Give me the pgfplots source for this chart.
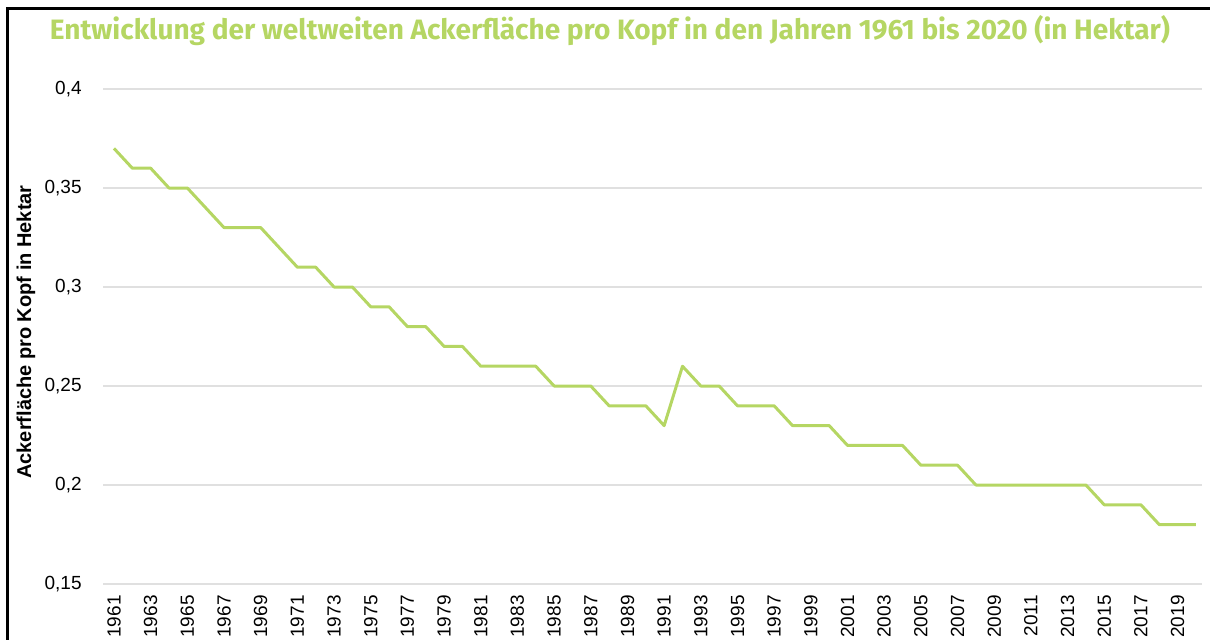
\documentclass[border=0pt]{standalone}
\usepackage{graphicx}
\usepackage{pgfplots}
\pgfplotsset{compat=1.18}
\usepackage{fontspec}
\setmainfont{Liberation Sans}
\newfontfamily\titlefont{Fira Sans}
\definecolor{lg}{RGB}{181,214,99}
\begin{document}
\begin{tikzpicture}[x=1pt,y=1pt]
\begin{axis}[
  at={(51.5pt,-292pt)}, anchor=south west,
  scale only axis, width=549.5pt, height=247.5pt,
  xmin=1960.4, xmax=2020.33, ymin=0.15, ymax=0.4,
  xtick={1961,1963,...,2019},
  ytick={0.15,0.2,0.25,0.3,0.35,0.4},
  ymajorgrids, grid style={draw=black!12, line width=0.75pt},
  axis line style={draw=none},
  major tick length=0pt,
  tick label style={font=\fontsize{9.5}{11}\selectfont, text=black},
  /pgf/number format/assume math mode=true,
  yticklabel style={/pgf/number format/use comma, /pgf/number format/fixed, /pgf/number format/precision=2, anchor=east, inner sep=0pt},
  yticklabel shift=10.5pt,
  xticklabel style={/pgf/number format/1000 sep={}, rotate=90, anchor=east, inner sep=0pt},
  xticklabel shift=5.5pt,
  clip=false,
]
\addplot[color=lg, line width=1.5pt, line join=round, mark=none] table {
x y
1961 0.37
1962 0.36
1963 0.36
1964 0.35
1965 0.35
1966 0.34
1967 0.33
1968 0.33
1969 0.33
1970 0.32
1971 0.31
1972 0.31
1973 0.30
1974 0.30
1975 0.29
1976 0.29
1977 0.28
1978 0.28
1979 0.27
1980 0.27
1981 0.26
1982 0.26
1983 0.26
1984 0.26
1985 0.25
1986 0.25
1987 0.25
1988 0.24
1989 0.24
1990 0.24
1991 0.23
1992 0.26
1993 0.25
1994 0.25
1995 0.24
1996 0.24
1997 0.24
1998 0.23
1999 0.23
2000 0.23
2001 0.22
2002 0.22
2003 0.22
2004 0.22
2005 0.21
2006 0.21
2007 0.21
2008 0.20
2009 0.20
2010 0.20
2011 0.20
2012 0.20
2013 0.20
2014 0.20
2015 0.19
2016 0.19
2017 0.19
2018 0.18
2019 0.18
2020 0.18
};
\end{axis}
\node[anchor=base, text=lg, inner sep=0pt] at (305pt,-19.75pt) {\resizebox{560pt}{!}{\titlefont\bfseries Entwicklung der weltweiten Ackerfläche pro Kopf in den Jahren 1961 bis 2020 (in Hektar)}};
\node[rotate=90, inner sep=0pt, font=\bfseries\fontsize{10}{12}\selectfont] at (13pt,-166pt) {Ackerfläche pro Kopf in Hektar};
\draw[line width=1.25pt] (3.65pt,-321pt) -- (3.65pt,-4.3pt) -- (607pt,-4.3pt);
\pgfresetboundingbox
\path (0pt,0pt) rectangle (605pt,-319.5pt);
\end{tikzpicture}
\end{document}
